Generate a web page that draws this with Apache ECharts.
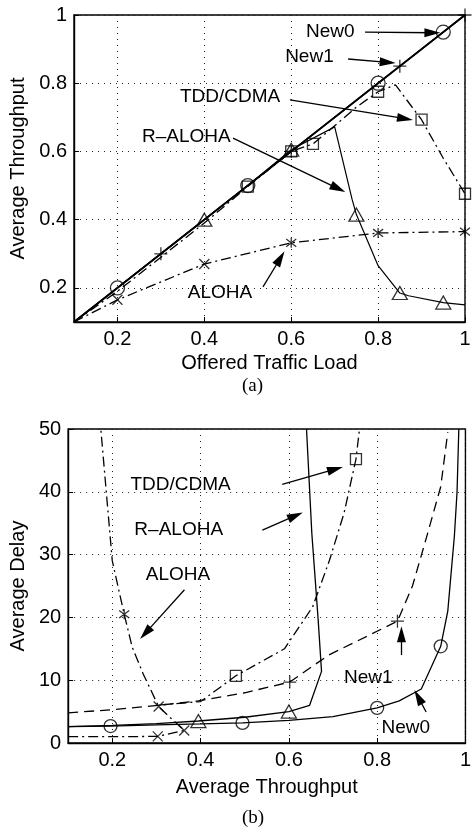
<!DOCTYPE html>
<html><head><meta charset="utf-8">
<script src="https://cdn.jsdelivr.net/npm/echarts@6/dist/echarts.min.js"></script>
<style>html,body{margin:0;padding:0;background:#fff}#c{width:474px;height:832px}</style>
</head><body><div id="c"></div>
<script>
// ---------- (a) Average Throughput vs Offered Traffic Load ----------
const aTicksX = [0.2, 0.4, 0.6, 0.8, 1];
const aTicksY = [0.2, 0.4, 0.6, 0.8, 1];
const aNew0Line = [[0.1,0.1],[0.2,0.2],[0.5,0.5],[0.8,0.8],[0.95,0.95],[1.0,1.0]];
const aNew0Marks = [[0.2,0.2],[0.5,0.5],[0.8,0.8],[0.95,0.95]];
const aNew1Line = [[0.1,0.1],[0.3,0.3],[0.6,0.6],[0.85,0.85],[1.0,1.0]];
const aNew1Marks = [[0.3,0.3],[0.6,0.6],[0.85,0.85],[1.0,1.0]];
const aTddLine = [[0.1,0.1],[0.2,0.19],[0.3,0.29],[0.4,0.39],[0.5,0.497],[0.6,0.6],[0.65,0.622],[0.7,0.675],[0.75,0.73],[0.8,0.775],[0.84,0.795],[0.9,0.693],[0.95,0.58],[1.0,0.476]];
const aTddMarks = [[0.5,0.497],[0.6,0.6],[0.65,0.622],[0.8,0.775],[0.9,0.693],[1.0,0.476]];
const aRaLine = [[0.1,0.1],[0.2,0.2],[0.3,0.3],[0.4,0.4],[0.5,0.5],[0.6,0.605],[0.7,0.672],[0.74,0.46],[0.75,0.415],[0.8,0.265],[0.85,0.185],[0.87,0.177],[0.95,0.157],[1.0,0.15]];
const aRaMarks = [[0.4,0.4],[0.6,0.605],[0.75,0.415],[0.85,0.185],[0.95,0.157]];
const aAlohaLine = [[0.1,0.1],[0.2,0.165],[0.4,0.27],[0.6,0.332],[0.8,0.361],[1.0,0.365]];
const aAlohaX = [[0.2,0.165],[0.4,0.27]];
const aAlohaStar = [[0.6,0.332],[0.8,0.361],[1.0,0.365]];
const aLabels = [['New0',0.634,0.950],['New1',0.586,0.877],['TDD/CDMA',0.344,0.760],['R\u2013ALOHA',0.2565,0.642],['ALOHA',0.362,0.185]];
const aArrows = [[0.770,0.950,0.925,0.948],[0.731,0.871,0.822,0.861],[0.597,0.751,0.862,0.696],[0.466,0.639,0.708,0.491],[0.535,0.203,0.575,0.287]];

// ---------- (b) Average Delay vs Average Throughput ----------
const bTicksX = [0.2, 0.4, 0.6, 0.8, 1];
const bTicksY = [0, 10, 20, 30, 40, 50];
const bNew0Line = [[0.1,2.6],[0.196,2.7],[0.3,2.9],[0.4,3.05],[0.495,3.2],[0.6,3.6],[0.7,4.2],[0.8,5.6],[0.85,6.7],[0.9,8.6],[0.944,15.4],[0.96,21],[0.975,33],[0.981,40],[0.985,50]];
const bNew0Marks = [[0.196,2.7],[0.495,3.2],[0.8,5.6],[0.944,15.4]];
const bNew1Line = [[0.1,4.8],[0.2,5.3],[0.305,6.0],[0.395,6.7],[0.5,8.0],[0.602,9.7],[0.69,14.0],[0.78,17.1],[0.846,19.4],[0.88,25],[0.91,32.3],[0.944,40.8],[0.96,49.5]];
const bNew1Marks = [[0.602,9.7],[0.846,19.4]];
const bTddLine = [[0.3,6.0],[0.4,6.6],[0.48,10.7],[0.59,15.0],[0.654,21.7],[0.692,29.1],[0.725,36.6],[0.752,45.2],[0.76,50]];
const bTddMarks = [[0.48,10.7],[0.752,45.2]];
const bRaLine = [[0.1,2.6],[0.2,2.8],[0.3,3.1],[0.395,3.5],[0.5,4.1],[0.6,5.0],[0.647,6.0],[0.674,11.4],[0.666,20],[0.652,33.4],[0.64,50]];
const bRaMarks = [[0.395,3.5],[0.6,5.0]];
const bAlohaLine = [[0.1,1.0],[0.2,1.0],[0.303,1.05],[0.363,2.0],[0.335,3.8],[0.305,5.8],[0.27,11],[0.245,15.3],[0.227,20.5],[0.2,29],[0.174,50]];
const bAlohaX = [[0.303,1.05],[0.363,2.0],[0.305,5.8]];
const bAlohaStar = [[0.227,20.5]];
const bLabels = [['TDD/CDMA',0.241,41.1],['R\u2013ALOHA',0.250,33.9],['ALOHA',0.276,26.8],['New1',0.725,10.35],['New0',0.810,2.39]];
const bArrows = [[0.585,41.2,0.705,43.6],[0.540,33.9,0.615,36.2],[0.3635,24.4,0.275,17.5],[0.855,14.0,0.855,17.3],[0.911,4.94,0.893,7.3]];

const FONT = 'Liberation Sans';
const SYM = {
  circle: 'circle',
  square: 'rect',
  triangle: 'triangle',
  plus: 'path://M5,0L5,10M0,5L10,5',
  x: 'path://M0,0L10,10M0,10L10,0',
  star: 'path://M0,0L10,10M0,10L10,0M5,-1.5L5,11.5'
};

function fmt(v){ return String(parseFloat(Number(v).toFixed(2))); }

function xAxis(idx, ticks, name, gap){
  return {
    gridIndex: idx, type: 'value', min: 0.1, max: 1,
    name: name, nameLocation: 'middle', nameGap: gap,
    nameTextStyle: {fontSize: 20, color: '#000', fontFamily: FONT},
    axisLine: {show: true, onZero: false, lineStyle: {color: '#000', width: 1.4}},
    axisTick: {show: true, inside: true, length: 5, customValues: ticks, lineStyle: {color: '#000'}},
    axisLabel: {customValues: ticks, formatter: fmt, color: '#000', fontSize: 20, fontFamily: FONT, margin: 7},
    splitLine: {show: true, lineStyle: {color: '#222', type: [1, 5], width: 1}}
  };
}
function yAxis(idx, ticks, min, max, name, gap){
  return {
    gridIndex: idx, type: 'value', min: min, max: max,
    name: name, nameLocation: 'middle', nameGap: gap,
    nameTextStyle: {fontSize: 20, color: '#000', fontFamily: FONT},
    axisLine: {show: true, onZero: false, lineStyle: {color: '#000', width: 1.4}},
    axisTick: {show: true, inside: true, length: 5, customValues: ticks, lineStyle: {color: '#000'}},
    axisLabel: {customValues: ticks, formatter: fmt, color: '#000', fontSize: 20, fontFamily: FONT, margin: 7},
    splitLine: {show: true, lineStyle: {color: '#222', type: [1, 5], width: 1}}
  };
}
function line(idx, data, type, width){
  return {type: 'line', xAxisIndex: idx, yAxisIndex: idx, data: data, showSymbol: false, symbol: 'none',
    lineStyle: {color: '#000', width: width, type: type}, silent: true, animation: false, z: 2};
}
function marks(idx, data, symbol, size){
  return {type: 'scatter', xAxisIndex: idx, yAxisIndex: idx, data: data, symbol: symbol, symbolSize: size,
    itemStyle: {color: 'rgba(0,0,0,0)', borderColor: '#000', borderWidth: 1.3}, silent: true, animation: false, z: 3};
}
function arrowsSeries(idx, arrows){
  return {type: 'line', xAxisIndex: idx, yAxisIndex: idx, data: [], silent: true, animation: false, z: 5,
    markLine: {silent: true, animation: false, symbol: ['none', 'triangle'], symbolSize: [9, 16],
      label: {show: false}, lineStyle: {color: '#000', width: 1.3, type: 'solid', opacity: 1},
      itemStyle: {color: '#000'},
      data: arrows.map(a => [{coord: [a[0], a[1]]}, {coord: [a[2], a[3]]}])}
  };
}

const DASH = [10, 6];
const DASHDOT = [10, 4, 2, 4];

const chart = echarts.init(document.getElementById('c'), null, {renderer: 'canvas'});
chart.setOption({
  backgroundColor: '#fff',
  animation: false,
  grid: [
    {left: 74, top: 15, width: 391, height: 307, show: true, borderColor: '#000', borderWidth: 1.4, backgroundColor: 'transparent'},
    {left: 65, top: 429, width: 403, height: 314, show: true, borderColor: '#000', borderWidth: 1.4, backgroundColor: 'transparent'}
  ],
  xAxis: [xAxis(0, aTicksX, 'Offered Traffic Load', 31), xAxis(1, bTicksX, 'Average Throughput', 34)],
  yAxis: [yAxis(0, aTicksY, 0.1, 1, 'Average Throughput', 42), yAxis(1, bTicksY, 0, 50, 'Average Delay', 36)],
  series: [
    line(0, aNew0Line, 'solid', 1.7), marks(0, aNew0Marks, SYM.circle, 14),
    line(0, aNew1Line, 'solid', 1.7), marks(0, aNew1Marks, SYM.plus, 13),
    line(0, aTddLine, DASHDOT, 1.3), marks(0, aTddMarks, SYM.square, 11),
    line(0, aRaLine, 'solid', 1.2), marks(0, aRaMarks, SYM.triangle, [15, 13]),
    line(0, aAlohaLine, DASHDOT, 1.3), marks(0, aAlohaX, SYM.x, 10), marks(0, aAlohaStar, SYM.star, 10),
    arrowsSeries(0, aArrows),
    line(1, bNew0Line, 'solid', 1.3), marks(1, bNew0Marks, SYM.circle, 13),
    line(1, bNew1Line, DASH, 1.3), marks(1, bNew1Marks, SYM.plus, 13),
    line(1, bTddLine, DASHDOT, 1.3), marks(1, bTddMarks, SYM.square, 11),
    line(1, bRaLine, 'solid', 1.3), marks(1, bRaMarks, SYM.triangle, [15, 13]),
    line(1, bAlohaLine, DASHDOT, 1.3), marks(1, bAlohaX, SYM.x, 10), marks(1, bAlohaStar, SYM.star, 10),
    arrowsSeries(1, bArrows)
  ]
});

// annotation texts placed through the chart's own coordinate conversion
const texts = [];
[[0, aLabels], [1, bLabels]].forEach(([g, labels]) => {
  labels.forEach(l => {
    const p = chart.convertToPixel({gridIndex: g}, [l[1], l[2]]);
    texts.push({type: 'text', x: p[0], y: p[1], z: 10,
      style: {text: l[0], fill: '#000', font: '19px "Liberation Sans"', textVerticalAlign: 'middle', textAlign: 'left'}});
  });
});
texts.push({type: 'text', left: 242, top: 377, style: {text: '(a)', font: '19px "Liberation Serif"', fill: '#000'}});
texts.push({type: 'text', left: 242, top: 809, style: {text: '(b)', font: '19px "Liberation Serif"', fill: '#000'}});
chart.setOption({graphic: texts});
</script></body></html>
